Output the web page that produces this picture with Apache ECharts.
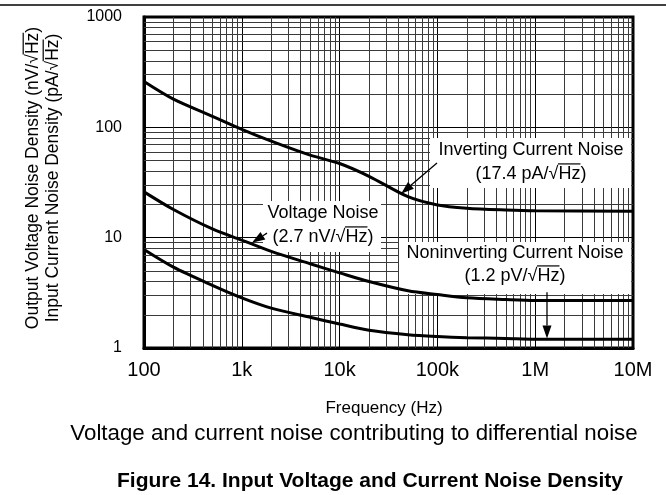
<!DOCTYPE html>
<html>
<head>
<meta charset="utf-8">
<script src="https://cdn.jsdelivr.net/npm/echarts@6/dist/echarts.min.js"></script>
<style>
  html, body { margin: 0; padding: 0; background: #fff; }
  #chart { width: 666px; height: 495px; }
</style>
</head>
<body>
<div id="chart"></div>
<script>
// Frequency points (Hz) and noise densities
const frequencies = [100, 200, 500, 1e3, 2e3, 5e3, 1e4, 2e4, 5e4, 1e5, 2e5, 5e5, 1e6, 1e7];
const invertingCurrentNoise = [260, 180, 126, 96, 75, 56, 47, 36, 23.5, 19.8, 18.5, 17.8, 17.5, 17.4];
const voltageNoise = [26, 18, 12, 9.5, 7.5, 5.8, 4.8, 4.0, 3.3, 3.05, 2.85, 2.75, 2.7, 2.7];
const noninvertingCurrentNoise = [7.8, 5.4, 3.7, 2.85, 2.3, 1.9, 1.65, 1.45, 1.32, 1.27, 1.24, 1.22, 1.2, 1.2];

// Axis tick labels
const xTickLabels = { 100: '100', 1000: '1k', 10000: '10k', 100000: '100k', 1000000: '1M', 10000000: '10M' };
const yTickLabels = { 1: '1', 10: '10', 100: '100', 1000: '1000' };

// Decades used for the 2..9 minor grid
const xDecades = [100, 1e3, 1e4, 1e5, 1e6];
const yDecades = [1, 10, 100];

// Annotation arrows: [tail frequency, tail value, tip frequency, tip value]
const invertingArrow = [99000, 47.5, 42500, 25];
const voltageArrow = [1810, 11.0, 1270, 9.0];
const noninvertingArrow = [1.32e6, 3.2, 1.32e6, 1.22];

const FONT = "'Liberation Sans', Arial, Helvetica, sans-serif";
const GRID = { left: 144, right: 33, top: 17, bottom: 147 };

const pair = (xs, ys) => xs.map((x, i) => [x, ys[i]]);

const minorLines = [];
xDecades.forEach(d => { for (let k = 2; k <= 9; k++) minorLines.push({ xAxis: k * d }); });
yDecades.forEach(d => { for (let k = 2; k <= 9; k++) minorLines.push({ yAxis: k * d }); });

const curveStyle = {
  type: 'line', smooth: 0.3, showSymbol: false, symbol: 'none',
  lineStyle: { color: '#000', width: 3 }, z: 10, silent: true, animation: false
};

const chart = echarts.init(document.getElementById('chart'), null, { renderer: 'canvas' });

const option = {
  backgroundColor: '#fff',
  animation: false,
  grid: { ...GRID, show: true, borderColor: '#000', borderWidth: 3, backgroundColor: '#fff' },
  xAxis: {
    type: 'log', logBase: 10, min: 100, max: 1e7,
    axisLine: { show: true, lineStyle: { color: '#000', width: 3 } },
    axisTick: { show: false },
    axisLabel: {
      margin: 12, color: '#000', fontFamily: FONT, fontSize: 20,
      formatter: v => xTickLabels[Math.round(v)] || ''
    },
    splitLine: { show: true, lineStyle: { color: '#000', width: 1 } }
  },
  yAxis: {
    type: 'log', logBase: 10, min: 1, max: 1000,
    axisLine: { show: true, lineStyle: { color: '#000', width: 3 } },
    axisTick: { show: false },
    axisLabel: {
      margin: 22, color: '#000', fontFamily: FONT, fontSize: 16,
      formatter: v => yTickLabels[Math.round(v)] || ''
    },
    splitLine: { show: true, lineStyle: { color: '#000', width: 1 } }
  },
  series: [
    {
      // carrier for the 2..9 grid inside each decade
      type: 'line', data: [[100, 1]], showSymbol: false, symbol: 'none',
      lineStyle: { opacity: 0 }, z: 1, silent: true,
      markLine: {
        silent: true, symbol: ['none', 'none'], animation: false,
        label: { show: false },
        lineStyle: { type: 'solid', color: '#3a3a3a', width: 1 },
        data: minorLines
      }
    },
    { ...curveStyle, name: 'Inverting Current Noise', data: pair(frequencies, invertingCurrentNoise) },
    { ...curveStyle, name: 'Voltage Noise', data: pair(frequencies, voltageNoise) },
    { ...curveStyle, name: 'Noninverting Current Noise', data: pair(frequencies, noninvertingCurrentNoise) }
  ]
};
chart.setOption(option);

// ---- text helpers -------------------------------------------------------
const measureCtx = document.createElement('canvas').getContext('2d');
function textWidth(str, font) { measureCtx.font = font; return measureCtx.measureText(str).width; }

function textEl(str, x, y, fs, opts = {}) {
  const font = `${opts.bold ? 'bold ' : ''}${fs}px ${FONT}`;
  return {
    type: 'text', x, y, z: opts.z || 6, silent: true,
    style: {
      text: str, font, fill: '#000',
      align: 'center', textAlign: 'center', verticalAlign: 'middle', textVerticalAlign: 'middle'
    }
  };
}

// Bar over "Hz" following the radical sign
function radicalBar(str, cx, cy, fs, z) {
  const idx = str.indexOf('Hz');
  if (idx < 0) return null;
  const font = `${fs}px ${FONT}`;
  const w = textWidth(str, font);
  const p = textWidth(str.slice(0, idx), font);
  const h = textWidth('Hz', font);
  const x0 = cx - w / 2 + p - 0.5;
  const yy = cy - fs * 0.56;
  return {
    type: 'line', z: z || 6, silent: true,
    shape: { x1: x0, y1: yy, x2: x0 + h + 0.5, y2: yy },
    style: { stroke: '#000', lineWidth: 1.2 }
  };
}

function textBlock(lines, cx, y0, gap, fs, z) {
  const out = [];
  lines.forEach((s, i) => {
    const y = y0 + i * gap;
    out.push(textEl(s, cx, y, fs, { z }));
    const bar = radicalBar(s, cx, y, fs, z);
    if (bar) out.push(bar);
  });
  return out;
}

function arrow(spec) {
  const a = chart.convertToPixel({ gridIndex: 0 }, [spec[0], spec[1]]);
  const b = chart.convertToPixel({ gridIndex: 0 }, [spec[2], spec[3]]);
  const dx = b[0] - a[0], dy = b[1] - a[1];
  const len = Math.hypot(dx, dy);
  const ux = dx / len, uy = dy / len;
  const headLen = 13, headW = 4.5;
  const bx = b[0] - ux * headLen, by = b[1] - uy * headLen;
  return [
    { type: 'line', z: 7, silent: true, shape: { x1: a[0], y1: a[1], x2: bx, y2: by }, style: { stroke: '#000', lineWidth: 1.3 } },
    {
      type: 'polygon', z: 7, silent: true,
      shape: { points: [[b[0], b[1]], [bx - uy * headW, by + ux * headW], [bx + uy * headW, by - ux * headW]] },
      style: { fill: '#000' }
    }
  ];
}

const FS = 18;
const graphics = [];

// page rule across the top
graphics.push({ type: 'line', z: 6, silent: true, shape: { x1: 0, y1: 5, x2: 666, y2: 5 }, style: { stroke: '#000', lineWidth: 1.5 } });

// annotation boxes
graphics.push({ type: 'rect', z: 5, silent: true, shape: { x: 430, y: 138, width: 201, height: 50 }, style: { fill: '#fff' } });
graphics.push(...textBlock(['Inverting Current Noise', '(17.4 pA/√Hz)'], 531, 150, 24, FS));

graphics.push({ type: 'rect', z: 5, silent: true, shape: { x: 263, y: 201, width: 118, height: 51 }, style: { fill: '#fff' } });
graphics.push(...textBlock(['Voltage Noise', '(2.7 nV/√Hz)'], 323, 213, 24, FS));

graphics.push({ type: 'rect', z: 5, silent: true, shape: { x: 399, y: 242, width: 232, height: 52 }, style: { fill: '#fff' } });
graphics.push(...textBlock(['Noninverting Current Noise', '(1.2 pV/√Hz)'], 515, 253, 23, FS));

graphics.push(...arrow(invertingArrow), ...arrow(voltageArrow), ...arrow(noninvertingArrow));

// axis titles and captions
graphics.push(textEl('Frequency (Hz)', 384, 408, 17));
graphics.push(textEl('Voltage and current noise contributing to differential noise', 354, 434, 22.3));
graphics.push(textEl('Figure 14. Input Voltage and Current Noise Density', 370, 481, 21, { bold: true }));

// rotated y-axis title (two lines)
const yTitleLines = ['Output Voltage Noise Density (nV/√Hz)', 'Input Current Noise Density (pA/√Hz)'];
const yTitleX = [33, 53];
yTitleLines.forEach((s, i) => {
  const children = [textEl(s, 0, 0, 17.5)];
  const bar = radicalBar(s, 0, 0, 17.5);
  if (bar) children.push(bar);
  graphics.push({ type: 'group', x: yTitleX[i], y: 178, rotation: Math.PI / 2, children });
});

chart.setOption({ graphic: { elements: graphics } });
</script>
</body>
</html>
